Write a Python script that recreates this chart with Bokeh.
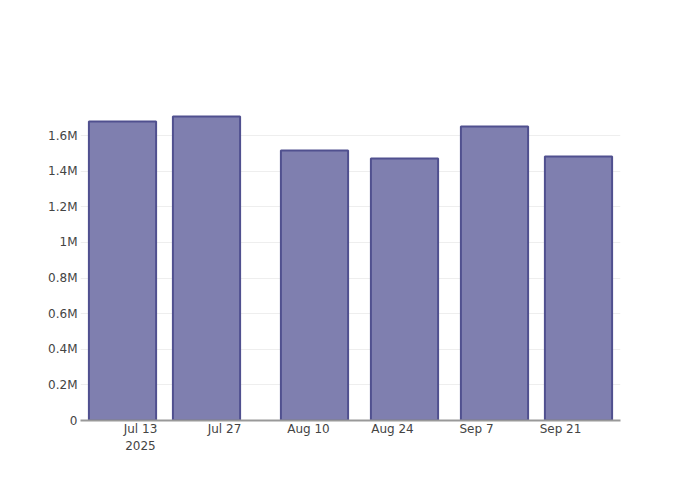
from datetime import datetime
from bokeh.plotting import figure
from bokeh.models import FixedTicker, Range1d
from bokeh.embed import file_html
from bokeh.resources import INLINE

# ---- data ----
dates = ["2025-07-10", "2025-07-24", "2025-08-11", "2025-08-26", "2025-09-10", "2025-09-24"]
values = [1679000, 1707000, 1516000, 1471000, 1651000, 1482000]

x_tick_dates = ["2025-07-13", "2025-07-27", "2025-08-10", "2025-08-24", "2025-09-07", "2025-09-21"]
x_tick_labels = ["Jul 13\n2025", "Jul 27", "Aug 10", "Aug 24", "Sep 7", "Sep 21"]

y_ticks = [0, 200000, 400000, 600000, 800000, 1000000, 1200000, 1400000, 1600000]
y_tick_labels = ["0", "0.2M", "0.4M", "0.6M", "0.8M", "1M", "1.2M", "1.4M", "1.6M"]

x_start, x_end = "2025-07-03", "2025-10-01"
y_max = 1797000

FONT = "DejaVu Sans"


def ms(s):
    return datetime.strptime(s, "%Y-%m-%d").timestamp() * 1000.0


DAY = 86400000.0
xs = [ms(d) for d in dates]
xt = [ms(d) for d in x_tick_dates]

p = figure(width=700, height=500, output_backend="svg", toolbar_location=None,
           x_axis_type="datetime",
           x_range=Range1d(ms(x_start), ms(x_end)),
           y_range=Range1d(0, y_max),
           min_border_left=80, min_border_right=80,
           min_border_top=100, min_border_bottom=80)
p.title = None
p.outline_line_color = None
p.background_fill_color = "white"
p.border_fill_color = "white"

p.vbar(x=xs, top=values, width=11.2 * DAY, bottom=0,
       fill_color="#7f7faf", fill_alpha=1.0,
       line_color="#50508f", line_width=2)

# x axis
p.xaxis.ticker = FixedTicker(ticks=xt)
p.xaxis.major_label_overrides = {t: l for t, l in zip(xt, x_tick_labels)}
p.xaxis.major_tick_line_color = None
p.xaxis.minor_tick_line_color = None
p.xaxis.major_tick_out = 0
p.xaxis.major_tick_in = 0
p.xaxis.axis_line_color = "#999999"
p.xaxis.axis_line_width = 2
p.xaxis.major_label_standoff = 1
p.xaxis.major_label_text_font = FONT
p.xaxis.major_label_text_font_size = "12px"
p.xaxis.major_label_text_color = "#444444"
p.xaxis.major_label_text_line_height = 1.25

# y axis
p.yaxis.ticker = FixedTicker(ticks=y_ticks)
p.yaxis.major_label_overrides = {t: l for t, l in zip(y_ticks, y_tick_labels)}
p.yaxis.axis_line_color = None
p.yaxis.major_tick_line_color = None
p.yaxis.minor_tick_line_color = None
p.yaxis.major_tick_out = 0
p.yaxis.major_tick_in = 0
p.yaxis.major_label_standoff = 3
p.yaxis.major_label_text_font = FONT
p.yaxis.major_label_text_font_size = "12px"
p.yaxis.major_label_text_color = "#444444"

p.xgrid.grid_line_color = None
p.ygrid.grid_line_color = "#eeeeee"
p.ygrid.grid_line_width = 1

open("out.html", "w").write(file_html(p, INLINE))
